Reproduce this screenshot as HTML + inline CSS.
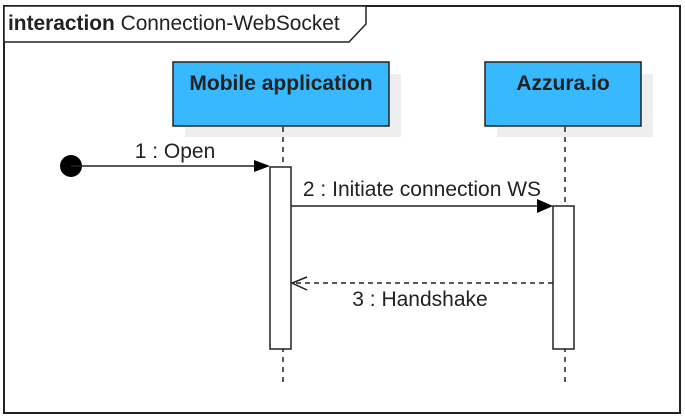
<!DOCTYPE html>
<html><head><meta charset="utf-8"><style>
html,body{margin:0;padding:0;background:#fff;width:685px;height:418px;overflow:hidden}
svg{display:block}
text{font-family:"Liberation Sans",sans-serif;fill:#222}
</style></head><body>
<svg width="685" height="418" viewBox="0 0 685 418">
<rect x="4" y="6" width="676" height="407" fill="#fff" stroke="#222" stroke-width="2"/>
<path d="M4 6 H366 V24 L349 42 H4 Z" fill="#fff" stroke="#222" stroke-width="1.5"/>
<text x="8" y="30" font-size="20.9"><tspan font-weight="bold">interaction</tspan> Connection-WebSocket</text>
<rect x="185" y="74" width="216" height="63" fill="#eee"/>
<rect x="173" y="62" width="216" height="64" fill="#38b8ff" stroke="#222" stroke-width="1.5"/>
<text x="281" y="90" font-size="21" font-weight="bold" text-anchor="middle" fill="#111">Mobile application</text>
<rect x="497" y="74" width="156" height="63" fill="#eee"/>
<rect x="485" y="62" width="156" height="64" fill="#38b8ff" stroke="#222" stroke-width="1.5"/>
<text x="563" y="90" font-size="21" font-weight="bold" text-anchor="middle" fill="#111">Azzura.io</text>
<g stroke="#222" stroke-width="1.5" stroke-dasharray="5,5">
<line x1="283" y1="127" x2="283" y2="387"/>
<line x1="565" y1="127" x2="565" y2="387"/>
</g>
<rect x="270" y="167" width="21" height="182" fill="#fff" stroke="#222" stroke-width="1.5"/>
<rect x="553" y="206" width="21" height="143" fill="#fff" stroke="#222" stroke-width="1.5"/>
<circle cx="71" cy="166" r="11" fill="#000"/>
<line x1="71" y1="166" x2="256" y2="166" stroke="#222" stroke-width="1.5"/>
<path d="M254 160 L270 166 L254 172 Z" fill="#000"/>
<text x="175" y="158" font-size="21" text-anchor="middle">1 : Open</text>
<line x1="291" y1="206" x2="540" y2="206" stroke="#222" stroke-width="1.5"/>
<path d="M537 199 L553 206 L537 213 Z" fill="#000"/>
<text x="422" y="196" font-size="21" text-anchor="middle">2 : Initiate connection WS</text>
<line x1="553" y1="283" x2="292" y2="283" stroke="#222" stroke-width="1.5" stroke-dasharray="5,4"/>
<path d="M307 277 L292 283 L307 290" fill="none" stroke="#222" stroke-width="1.5"/>
<text x="420" y="306" font-size="21" text-anchor="middle">3 : Handshake</text>
</svg>
</body></html>
